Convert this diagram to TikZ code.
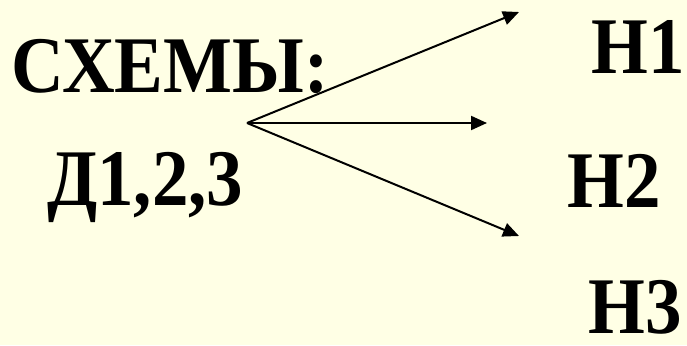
\documentclass[tikz,border=0pt]{standalone}
\usepackage{fontspec}
\IfFontExistsTF{LiberationSerif-Bold.ttf}
  {\newfontfamily\tnrbold{LiberationSerif-Bold.ttf}}
  {\newfontfamily\tnrbold{Liberation Serif}}
\usetikzlibrary{arrows.meta}
\definecolor{bg}{RGB}{255,255,229}
\newcommand{\stretchtxt}[1]{\scalebox{1}[1.1]{#1}}
\begin{document}
\begin{tikzpicture}[x=1pt,y=-1pt,
  lbl/.style={anchor=base west, inner sep=0pt, font=\fontsize{73}{80}\tnrbold\bfseries},
  lble/.style={lbl, anchor=base east},
  arr/.style={line width=2pt, -{Triangle[length=16pt,width=14pt]}}]
\fill[bg] (0,0) rectangle (687,345);
\useasboundingbox (0,0) rectangle (687,345);
\node[lbl] (title) at (11,92) {\stretchtxt{СХЕМЫ:}};
\node[lbl] (d) at (47,205) {\stretchtxt{Д1,2,3}};
\node[lble] (n1) at (685,74) {\stretchtxt{Н1}};
\node[lbl] (n2) at (567,207) {\stretchtxt{Н2}};
\node[lble] (n3) at (682,333) {\stretchtxt{Н3}};
\coordinate (o) at (247,123);
\coordinate (t1) at (519,12);
\coordinate (t2) at (487,123);
\coordinate (t3) at (519,236);
\draw[arr] (o) -- (t1);
\draw[arr] (o) -- (t2);
\draw[arr] (o) -- (t3);
\end{tikzpicture}
\end{document}
